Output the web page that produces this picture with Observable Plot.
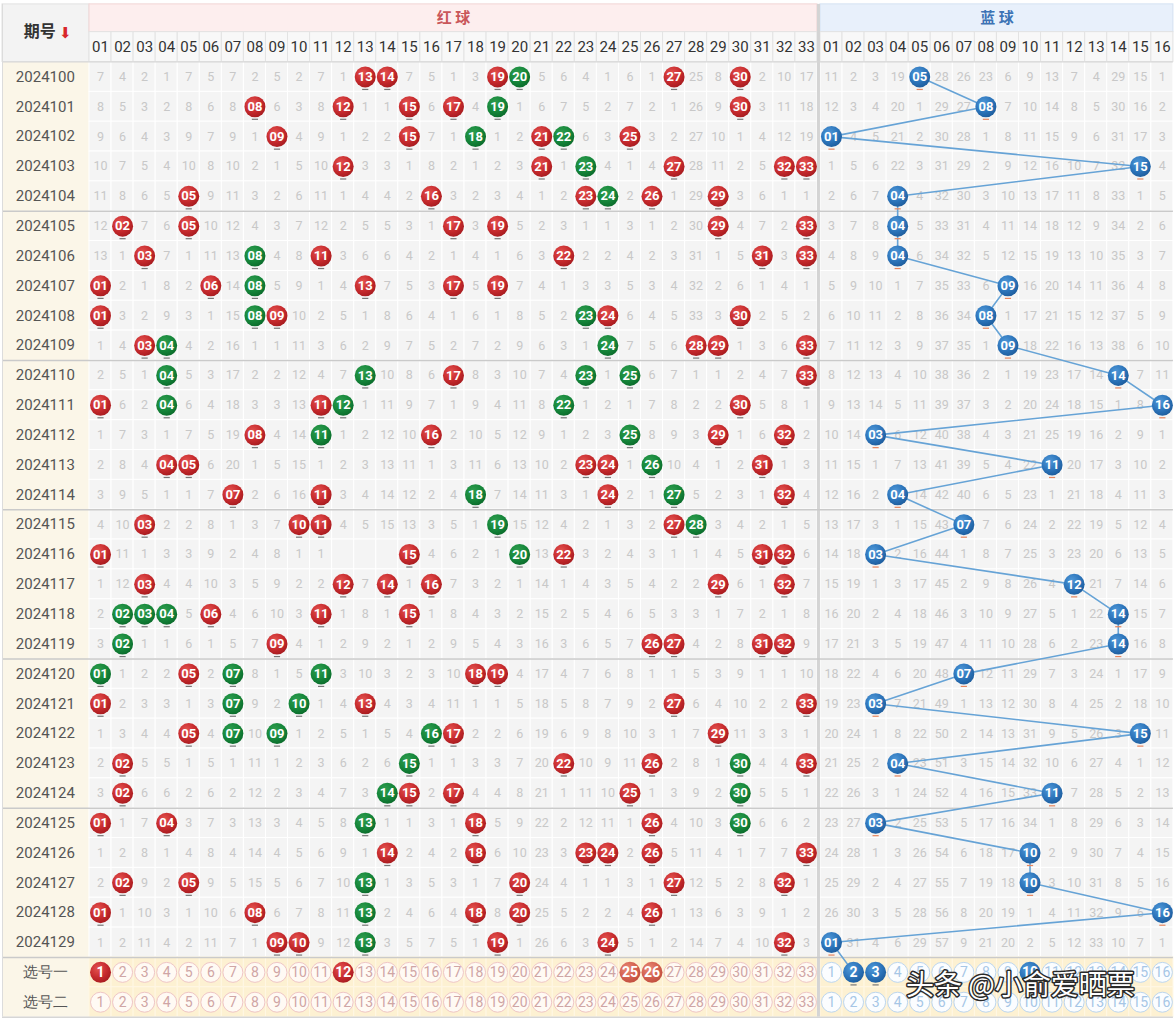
<!DOCTYPE html>
<html><head><meta charset="utf-8">
<script src="https://cdn.jsdelivr.net/npm/d3@7"></script>
<script src="https://cdn.jsdelivr.net/npm/@observablehq/plot@0.6"></script>
<style>
html,body{margin:0;padding:0;background:#fff;}
#chart svg{display:block;}
</style></head><body><div id="chart"></div>
<script>
// ---------------- data ----------------
const issues = ["2024100","2024101","2024102","2024103","2024104","2024105","2024106","2024107","2024108","2024109",
  "2024110","2024111","2024112","2024113","2024114","2024115","2024116","2024117","2024118","2024119",
  "2024120","2024121","2024122","2024123","2024124","2024125","2024126","2024127","2024128","2024129"];
const redLabels = ["01","02","03","04","05","06","07","08","09","10","11","12","13","14","15","16","17","18","19","20","21","22","23","24","25","26","27","28","29","30","31","32","33"];
const blueLabels = ["01","02","03","04","05","06","07","08","09","10","11","12","13","14","15","16"];
const pickLabelsRed = ["1","2","3","4","5","6","7","8","9","10","11","12","13","14","15","16","17","18","19","20","21","22","23","24","25","26","27","28","29","30","31","32","33"];
const pickLabelsBlue = ["1","2","3","4","5","6","7","8","9","10","11","12","13","14","15","16"];
const redHits = [
  [13,14,19,20,27,30],[8,12,15,17,19,30],[9,15,18,21,22,25],[12,21,23,27,32,33],[5,16,23,24,26,29],
  [2,5,17,19,29,33],[3,8,11,22,31,33],[1,6,8,13,17,19],[1,8,9,23,24,30],[3,4,24,28,29,33],
  [4,13,17,23,25,33],[1,4,11,12,22,30],[8,11,16,25,29,32],[4,5,23,24,26,31],[7,11,18,24,27,32],
  [3,10,11,19,27,28],[1,15,20,22,31,32],[3,12,14,16,29,32],[2,3,4,6,11,15],[2,9,26,27,31,32],
  [1,5,7,11,18,19],[1,7,10,13,27,33],[5,7,9,16,17,29],[2,15,22,26,30,33],[2,14,15,17,25,30],
  [1,4,13,18,26,30],[14,18,23,24,26,33],[2,5,13,20,27,32],[1,8,13,18,20,26],[9,10,13,19,24,32]];
const redGreen = [
  [20],[19],[18,22],[23],[24],
  [],[8],[8],[8,23],[4,24],
  [4,13,23,25],[4,12,22],[11,25],[26],[18,27],
  [19,28],[20],[],[2,3,4],[2],
  [1,7,11],[7,10],[7,9,16],[15,30],[14,30],
  [13,30],[],[13],[13],[13]];
const blueHits = [5,8,1,15,4,4,4,9,8,9,14,16,3,11,4,7,3,12,14,14,7,3,15,4,11,3,10,10,16,1];
// omission counts shown in the first row (0 = drawn)
const redFirstMiss = [7,4,2,1,7,5,7,2,5,2,7,1,0,0,7,5,1,3,0,0,5,6,4,1,6,1,0,25,8,0,2,10,17];
const blueFirstMiss = [11,2,3,19,0,28,26,23,6,9,13,7,4,29,15,1];
const blankCells = [["2024116",12],["2024116",13],["2024116",14]];
const pick1Red = [1,12];
const pick1RedLight = [25,26];
const pick1Blue = [2,3,10];
const pickRowNames = ["选号一","选号二"];

// ---------------- layout helpers ----------------
const L = 4.034, GAP = 0.136, END = 33 + GAP + 16;
const rx = n => n - 0.5;
const bx = n => 33 + GAP + n - 0.5;

const cells = [], misses = [], balls = [];
function build(zone, ncols, first, hitsFor, greenFor, xf) {
  for (let c = 1; c <= ncols; c++) {
    let miss = 0;
    for (let r = 0; r < issues.length; r++) {
      const x = xf(c), y = r + 0.5;
      cells.push({x, y});
      if (hitsFor(r).includes(c)) {
        balls.push({x, y, zone, green: greenFor(r).includes(c), label: (zone === "red" ? redLabels : blueLabels)[c - 1]});
        miss = 0;
      } else {
        miss = r === 0 ? first[c - 1] : miss + 1;
        const blank = zone === "red" && blankCells.some(([is, col]) => is === issues[r] && col === c);
        if (!blank) misses.push({x, y, text: String(miss)});
      }
    }
  }
}
build("red", 33, redFirstMiss, r => redHits[r], r => redGreen[r], rx);
build("blue", 16, blueFirstMiss, r => [blueHits[r]], r => [], bx);

const pickRow = issues.length;
const bluePath = blueHits.map((b, r) => ({x: bx(b), y: r + 0.5}));
bluePath.push({x: bx(pick1Blue[0]), y: pickRow + 0.5});

const picks = [];
pickRowNames.forEach((name, k) => {
  pickLabelsRed.forEach((t, i) => picks.push({x: rx(i + 1), y: pickRow + k + 0.5, t, zone: "red",
    state: k === 0 && pick1Red.includes(i + 1) ? "sel" : k === 0 && pick1RedLight.includes(i + 1) ? "light" : "off"}));
  pickLabelsBlue.forEach((t, i) => picks.push({x: bx(i + 1), y: pickRow + k + 0.5, t, zone: "blue",
    state: k === 0 && pick1Blue.includes(i + 1) ? "sel" : "off"}));
});

const band = (x1, x2, y1, y2, opts) => Plot.rect([{x1, x2, y1, y2}], {x1: "x1", x2: "x2", y1: "y1", y2: "y2", ...opts});
const numFont = "Roboto, 'DejaVu Sans', sans-serif";
const cjk = "'Noto Sans CJK SC', sans-serif";
const headCells = [...redLabels.map((t, i) => ({x: rx(i + 1), t})), ...blueLabels.map((t, i) => ({x: bx(i + 1), t}))];
const pickCells = picks.map(d => ({x: d.x, y: d.y}));
const labelRows = [...issues.map((t, i) => ({t, y: i + 0.5})), ...pickRowNames.map((t, k) => ({t, y: pickRow + k + 0.5}))];

const chart = Plot.plot({
  width: 1176, height: 1025, margin: 0,
  x: {type: "linear", domain: [-L, 49.276], range: [0, 1176]},
  y: {type: "linear", domain: [-2.06, 32.28], range: [0, 1025]},
  axis: null,
  style: {background: "#ffffff"},
  marks: [
    // table backgrounds
    band(-L + 0.09, 0, 0, pickRow + 2, {fill: "#fbf6e8"}),
    Plot.rect(cells, {x1: d => d.x - 0.5, x2: d => d.x + 0.5, y1: d => d.y - 0.5, y2: d => d.y + 0.5, fill: "#f4f4f4", stroke: "#ffffff", strokeWidth: 1}),
    Plot.rect(pickCells, {x1: d => d.x - 0.5, x2: d => d.x + 0.5, y1: d => d.y - 0.5, y2: d => d.y + 0.5, fill: "#fdf1d2", stroke: "#fff7e4", strokeWidth: 1}),
    // headers
    band(-L + 0.09, 0, -1.93, 0, {fill: "#f3f3f3", stroke: "#e2e2e2"}),
    band(0, 33, -1.93, -1.0, {fill: "#fdeeee", stroke: "#f1d6d6"}),
    band(33 + GAP, END, -1.93, -1.0, {fill: "#e8f0fb", stroke: "#d4e1f2"}),
    Plot.rect(headCells, {x1: d => d.x - 0.5, x2: d => d.x + 0.5, y1: () => -1.0, y2: () => 0, fill: "#f8f8f8", stroke: "#e3e3e3", strokeWidth: 1}),
    Plot.text(headCells, {x: "x", y: () => -0.5, text: "t", fontSize: 15, fill: "#333", fontFamily: numFont}),
    Plot.text(["红 球"], {x: () => 16.5, y: () => -1.46, text: d => d, fontSize: 15, fontWeight: "bold", fill: "#c9575a", fontFamily: cjk}),
    Plot.text(["蓝 球"], {x: () => 33 + GAP + 8, y: () => -1.46, text: d => d, fontSize: 15, fontWeight: "bold", fill: "#3d73b5", fontFamily: cjk}),
    Plot.text(["期号"], {x: () => -2.25, y: () => -1.0, text: d => d, fontSize: 16, fontWeight: "bold", fill: "#333", fontFamily: cjk}),
    Plot.text(["⬇"], {x: () => -1.1, y: () => -0.97, text: d => d, fontSize: 15, fill: "#d8262a", fontFamily: "'DejaVu Sans', sans-serif"}),
    // separators
    band(33, 33 + GAP, -1.93, pickRow + 2, {fill: "#d4d4d4"}),
    Plot.ruleY([0], {x1: -L + 0.09, x2: END, stroke: "#d6d6d6", strokeWidth: 1}),
    Plot.ruleY([5, 10, 15, 20, 25, 30], {x1: -L + 0.09, x2: END, stroke: "#cacaca", strokeWidth: 1.5}),
    Plot.ruleY([pickRow + 2], {x1: -L + 0.09, x2: END, stroke: "#d6d6d6", strokeWidth: 1.5}),
    Plot.ruleX([-L + 0.09], {y1: -1.93, y2: pickRow + 2, stroke: "#dcdcdc", strokeWidth: 1}),
    // row labels
    Plot.text(labelRows, {x: () => -2.0, y: "y", text: "t", fontSize: 15, fill: "#555", fontFamily: numFont}),
    // omission numbers
    Plot.text(misses, {x: "x", y: "y", text: "text", fontSize: 12.5, fill: "#c8c8c8", fontFamily: numFont}),
    // blue trend line
    Plot.line(bluePath, {x: "x", y: "y", stroke: "#66a3d6", strokeWidth: 1.6, curve: "linear"}),
    // dashes under balls
    Plot.link(balls, {x1: d => d.x - 0.14, x2: d => d.x + 0.14, y1: d => d.y + 0.42, y2: d => d.y + 0.42,
      stroke: d => d.zone === "blue" ? "#e6865f" : "#777777", strokeWidth: 1.2}),
    // balls
    Plot.dot(balls.filter(d => d.zone === "red" && !d.green), {x: "x", y: "y", r: 10.5, fill: "url(#gRed)"}),
    Plot.dot(balls.filter(d => d.zone === "red" && d.green), {x: "x", y: "y", r: 10.5, fill: "url(#gGreen)"}),
    Plot.dot(balls.filter(d => d.zone === "blue"), {x: "x", y: "y", r: 10.5, fill: "url(#gBlue)"}),
    Plot.text(balls, {x: "x", y: "y", text: "label", fill: "#ffffff", fontWeight: "bold", fontSize: 13, fontFamily: numFont, letterSpacing: "-0.5px"}),
    // pick rows
    Plot.dot(picks.filter(d => d.state === "off" && d.zone === "red"), {x: "x", y: "y", r: 10, fill: "#fffaf4", stroke: "#efc6c6", strokeWidth: 1}),
    Plot.dot(picks.filter(d => d.state === "off" && d.zone === "blue"), {x: "x", y: "y", r: 10, fill: "#fbfdff", stroke: "#bcd6ef", strokeWidth: 1}),
    Plot.dot(picks.filter(d => d.state === "sel" && d.zone === "red"), {x: "x", y: "y", r: 10.5, fill: "url(#gRed)"}),
    Plot.dot(picks.filter(d => d.state === "light"), {x: "x", y: "y", r: 10.5, fill: "url(#gLight)"}),
    Plot.link(picks.filter(d => d.state === "sel" && d.zone === "blue"), {x1: d => d.x - 0.14, x2: d => d.x + 0.14, y1: d => d.y + 0.42, y2: d => d.y + 0.42, stroke: "#777", strokeWidth: 1.2}),
    Plot.dot(picks.filter(d => d.state === "sel" && d.zone === "blue"), {x: "x", y: "y", r: 10.5, fill: "url(#gBlue)"}),
    Plot.text(picks.filter(d => d.state === "off" && d.zone === "red"), {x: "x", y: "y", text: "t", fontSize: 14, fill: "#cfa5a5", fontFamily: numFont, letterSpacing: "-0.5px"}),
    Plot.text(picks.filter(d => d.state === "off" && d.zone === "blue"), {x: "x", y: "y", text: "t", fontSize: 14, fill: "#a6c6e6", fontFamily: numFont, letterSpacing: "-0.5px"}),
    Plot.text(picks.filter(d => d.state !== "off"), {x: "x", y: "y", text: "t", fontSize: 14, fontWeight: "bold", fill: "#ffffff", fontFamily: numFont, letterSpacing: "-0.5px"}),
    // watermark
    Plot.text(["头条 @小俞爱晒票"], {x: () => 42.2, y: () => pickRow + 0.95, text: d => d, fontSize: 28, fill: "#ffffff",
      stroke: "#2a2a2a", strokeWidth: 3, paintOrder: "stroke", fontFamily: cjk})
  ]
});

const defs = d3.select(chart).insert("defs", ":first-child");
function grad(id, c0, c1, c2) {
  const g = defs.append("radialGradient").attr("id", id).attr("cx", "38%").attr("cy", "32%").attr("r", "72%");
  g.append("stop").attr("offset", "0%").attr("stop-color", c0);
  g.append("stop").attr("offset", "60%").attr("stop-color", c1);
  g.append("stop").attr("offset", "100%").attr("stop-color", c2);
}
grad("gRed", "#e4524f", "#c62a2d", "#a61b1f");
grad("gGreen", "#2f9e4f", "#15863a", "#0b6b2b");
grad("gBlue", "#4f98d8", "#2c74ba", "#1d5c9c");
grad("gLight", "#e98a78", "#d3604f", "#c04d3e");

document.getElementById("chart").appendChild(chart);
</script></body></html>
